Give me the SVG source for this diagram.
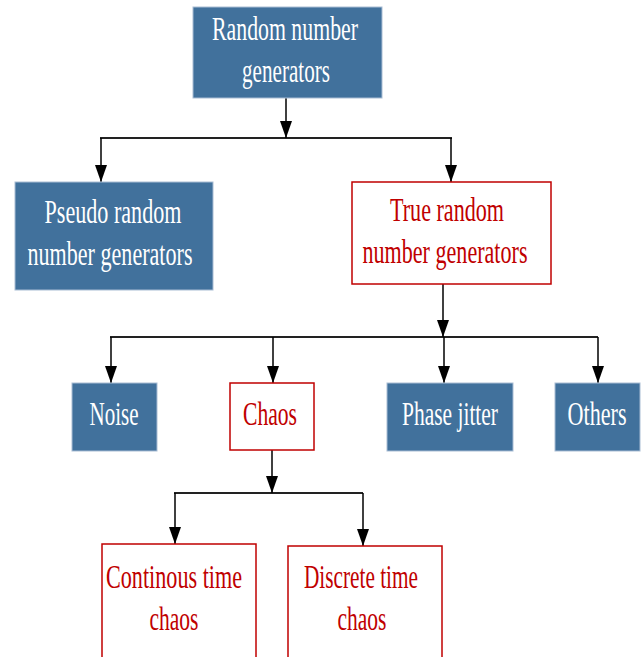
<svg xmlns="http://www.w3.org/2000/svg" width="643" height="657" viewBox="0 0 643 657">
<defs>
<marker id="ah" markerUnits="userSpaceOnUse" markerWidth="17" markerHeight="12" viewBox="0 0 17 12" refX="17" refY="6" orient="auto">
<path d="M0,0 L17,6 L0,12 z" fill="#000"/>
</marker>
<style>
.blue{fill:#41719c;stroke:#a9bdd4;stroke-width:1}
.red{fill:#fff;stroke:#c00000;stroke-width:1.5}
.tw{font-family:"Liberation Serif",serif;font-size:34px;fill:#fff;text-anchor:middle}
.tr{font-family:"Liberation Serif",serif;font-size:34px;fill:#c00000;text-anchor:middle}
.ln{fill:none;stroke:#222;stroke-width:1.8}
.ar{fill:none;stroke:#000;stroke-width:1.5}
</style>
</defs>
<rect width="643" height="657" fill="#fff"/>
<g id="connectors">
<path class="ln" d="M100,138 H452"/>
<path class="ar" d="M286,98 V138" marker-end="url(#ah)"/>
<path class="ar" d="M101,138 V182" marker-end="url(#ah)"/>
<path class="ar" d="M451,138 V182" marker-end="url(#ah)"/>
<path class="ln" d="M110,337 H598"/>
<path class="ar" d="M443,284 V337" marker-end="url(#ah)"/>
<path class="ar" d="M111,337 V383" marker-end="url(#ah)"/>
<path class="ar" d="M273,337 V383" marker-end="url(#ah)"/>
<path class="ar" d="M444,337 V383" marker-end="url(#ah)"/>
<path class="ar" d="M598,337 V383" marker-end="url(#ah)"/>
<path class="ln" d="M174,493 H363"/>
<path class="ar" d="M272,450 V493" marker-end="url(#ah)"/>
<path class="ar" d="M175,493 V544" marker-end="url(#ah)"/>
<path class="ar" d="M363,493 V546" marker-end="url(#ah)"/>
</g>
<g id="rng">
<rect class="blue" x="193" y="7" width="189" height="91"/>
<text class="tw" x="285" y="40" textLength="146" lengthAdjust="spacingAndGlyphs">Random number</text>
<text class="tw" x="286" y="82" textLength="88" lengthAdjust="spacingAndGlyphs">generators</text>
</g>
<g id="prng">
<rect class="blue" x="15" y="182" width="198" height="108"/>
<text class="tw" x="113" y="223" textLength="137" lengthAdjust="spacingAndGlyphs">Pseudo random</text>
<text class="tw" x="110" y="265" textLength="165" lengthAdjust="spacingAndGlyphs">number generators</text>
</g>
<g id="trng">
<rect class="red" x="352" y="182" width="199" height="102"/>
<text class="tr" x="447" y="221" textLength="114" lengthAdjust="spacingAndGlyphs">True random</text>
<text class="tr" x="445" y="263" textLength="165" lengthAdjust="spacingAndGlyphs">number generators</text>
</g>
<g id="noise">
<rect class="blue" x="72" y="383" width="85" height="68"/>
<text class="tw" x="114" y="425" textLength="49" lengthAdjust="spacingAndGlyphs">Noise</text>
</g>
<g id="chaos">
<rect class="red" x="230" y="383" width="84" height="67"/>
<text class="tr" x="270" y="425" textLength="54" lengthAdjust="spacingAndGlyphs">Chaos</text>
</g>
<g id="phase">
<rect class="blue" x="387" y="383" width="126" height="68"/>
<text class="tw" x="450" y="425" textLength="96" lengthAdjust="spacingAndGlyphs">Phase jitter</text>
</g>
<g id="others">
<rect class="blue" x="555" y="383" width="85" height="68"/>
<text class="tw" x="597" y="425" textLength="59" lengthAdjust="spacingAndGlyphs">Others</text>
</g>
<g id="continuous">
<rect class="red" x="102" y="544" width="154" height="130"/>
<text class="tr" x="174" y="588" textLength="136" lengthAdjust="spacingAndGlyphs">Continous time</text>
<text class="tr" x="174" y="630" textLength="49" lengthAdjust="spacingAndGlyphs">chaos</text>
</g>
<g id="discrete">
<rect class="red" x="288" y="546" width="154" height="130"/>
<text class="tr" x="361" y="588" textLength="114" lengthAdjust="spacingAndGlyphs">Discrete time</text>
<text class="tr" x="362" y="630" textLength="49" lengthAdjust="spacingAndGlyphs">chaos</text>
</g>
</svg>
